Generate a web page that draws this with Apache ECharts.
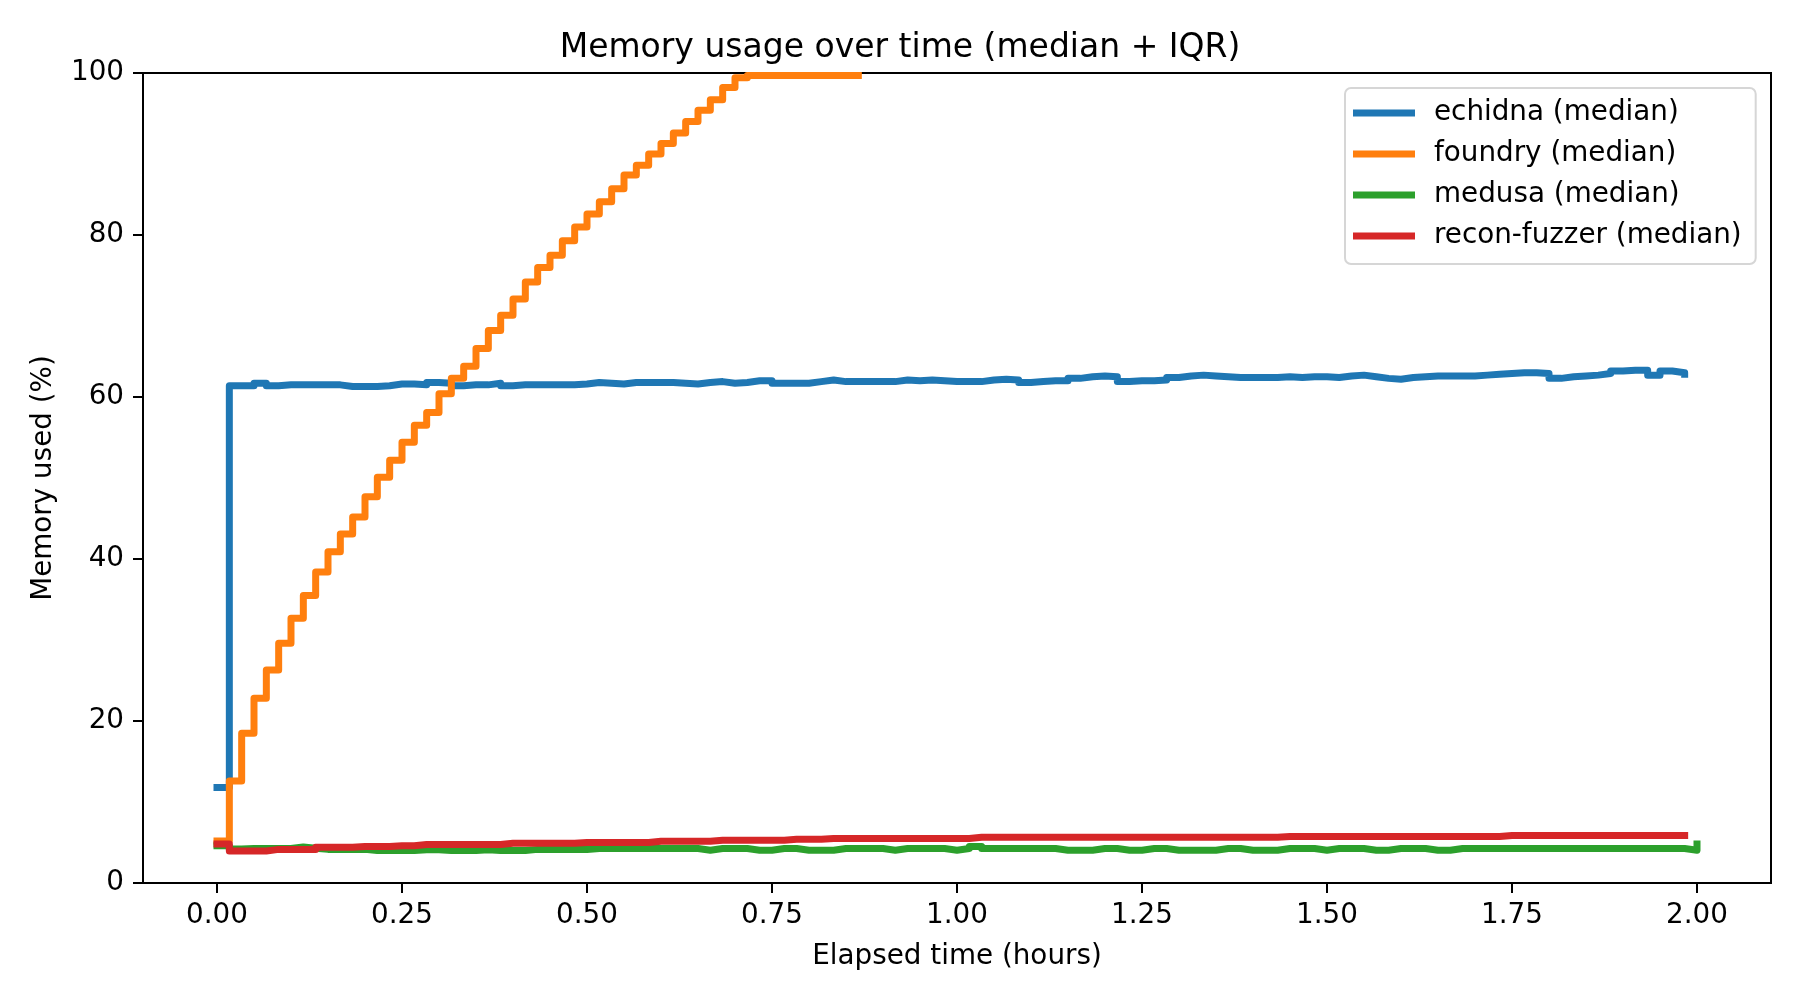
<!DOCTYPE html>
<html>
<head>
<meta charset="utf-8">
<title>Memory usage over time</title>
<script src="https://cdn.jsdelivr.net/npm/echarts@6/dist/echarts.min.js"></script>
<style>
  html, body { margin: 0; padding: 0; background: #fff; }
  #chart { width: 1800px; height: 1000px; }
</style>
</head>
<body>
<div id="chart"></div>
<script>
// one sample per minute, median over runs (percent of memory used)
const seriesNames = ['echidna (median)', 'foundry (median)', 'medusa (median)', 'recon-fuzzer (median)'];
const seriesColors = ['#1f77b4', '#ff7f0e', '#2ca02c', '#d62728'];

const echidna = [
  11.8, 61.4, 61.4, 61.7, 61.4, 61.5, 61.5, 61.5, 61.5, 61.5,
  61.3, 61.3, 61.3, 61.4, 61.6, 61.6, 61.5, 61.8, 61.7, 61.4,
  61.5, 61.5, 61.7, 61.4, 61.5, 61.5, 61.5, 61.5, 61.5, 61.6,
  61.8, 61.7, 61.6, 61.8, 61.8, 61.8, 61.8, 61.7, 61.6, 61.8,
  61.9, 61.7, 61.8, 62.0, 62.0, 61.7, 61.7, 61.7, 61.9, 62.1,
  61.9, 61.9, 61.9, 61.9, 61.9, 62.1, 62.0, 62.1, 62.0, 61.9,
  61.9, 61.9, 62.1, 62.2, 62.1, 61.8, 61.9, 62.0, 62.0, 62.3,
  62.5, 62.6, 62.5, 61.9, 62.0, 62.0, 62.1, 62.4, 62.6, 62.7,
  62.6, 62.5, 62.4, 62.4, 62.4, 62.4, 62.5, 62.4, 62.5, 62.5,
  62.4, 62.6, 62.7, 62.5, 62.3, 62.2, 62.4, 62.5, 62.6, 62.6,
  62.6, 62.6, 62.7, 62.8, 62.9, 63.0, 63.0, 62.9, 62.3, 62.5,
  62.6, 62.7, 62.9, 63.2, 63.3, 63.3, 62.7, 63.2, 63.0, 62.8
];

const foundry = [
  5.2, 12.6, 18.5, 22.8, 26.3, 29.6, 32.7, 35.5, 38.4, 40.9,
  43.1, 45.2, 47.7, 50.1, 52.2, 54.4, 56.5, 58.1, 60.4, 62.3,
  63.8, 66.0, 68.2, 70.1, 72.1, 74.2, 76.0, 77.5, 79.3, 81.0,
  82.6, 84.1, 85.7, 87.4, 88.6, 90.0, 91.3, 92.6, 94.0, 95.4,
  96.7, 98.2, 99.4, 99.7, 99.7, 99.7, 99.7, 99.7, 99.7, 99.7,
  99.7, 99.7, 99.7
];

const medusa = [
  4.6, 4.2, 4.25, 4.25, 4.25, 4.25, 4.45, 4.3, 4.15, 4.15,
  4.15, 4.15, 4.0, 4.0, 4.0, 4.0, 4.1, 4.1, 4.0, 4.0,
  4.0, 4.1, 4.0, 4.0, 4.0, 4.15, 4.15, 4.15, 4.15, 4.15,
  4.25, 4.25, 4.25, 4.25, 4.25, 4.25, 4.25, 4.25, 4.25, 4.05,
  4.25, 4.25, 4.25, 4.05, 4.05, 4.25, 4.25, 4.05, 4.05, 4.05,
  4.25, 4.25, 4.25, 4.25, 4.05, 4.25, 4.25, 4.25, 4.25, 4.05,
  4.25, 4.5, 4.25, 4.25, 4.25, 4.25, 4.25, 4.25, 4.05, 4.05,
  4.05, 4.25, 4.25, 4.05, 4.05, 4.25, 4.25, 4.05, 4.05, 4.05,
  4.05, 4.25, 4.25, 4.05, 4.05, 4.05, 4.25, 4.25, 4.25, 4.05,
  4.25, 4.25, 4.25, 4.05, 4.05, 4.25, 4.25, 4.25, 4.05, 4.05,
  4.25, 4.25, 4.25, 4.25, 4.25, 4.25, 4.25, 4.25, 4.25, 4.25,
  4.25, 4.25, 4.25, 4.25, 4.25, 4.25, 4.25, 4.25, 4.25, 4.05,
  4.8
];

const reconFuzzer = [
  4.8, 3.95, 3.95, 3.95, 4.15, 4.15, 4.15, 4.15, 4.4, 4.4,
  4.4, 4.5, 4.5, 4.5, 4.6, 4.6, 4.75, 4.75, 4.75, 4.75,
  4.75, 4.75, 4.75, 4.9, 4.9, 4.9, 4.9, 4.9, 4.9, 5.0,
  5.0, 5.0, 5.0, 5.0, 5.0, 5.15, 5.15, 5.15, 5.15, 5.15,
  5.27, 5.27, 5.27, 5.27, 5.27, 5.27, 5.4, 5.4, 5.4, 5.5,
  5.5, 5.5, 5.5, 5.5, 5.5, 5.5, 5.5, 5.5, 5.5, 5.5,
  5.5, 5.65, 5.65, 5.65, 5.65, 5.65, 5.65, 5.65, 5.65, 5.65,
  5.65, 5.65, 5.65, 5.65, 5.65, 5.65, 5.65, 5.65, 5.65, 5.65,
  5.65, 5.65, 5.65, 5.65, 5.65, 5.65, 5.75, 5.75, 5.75, 5.75,
  5.75, 5.75, 5.75, 5.75, 5.75, 5.75, 5.75, 5.75, 5.75, 5.75,
  5.75, 5.75, 5.75, 5.75, 5.87, 5.87, 5.87, 5.87, 5.87, 5.87,
  5.87, 5.87, 5.87, 5.87, 5.87, 5.87, 5.87, 5.87, 5.87, 5.87
];

const xTicks = [0, 0.25, 0.5, 0.75, 1.0, 1.25, 1.5, 1.75, 2.0];
const yTicks = [0, 20, 40, 60, 80, 100];

const FONT = 'DejaVu Sans';

// minute index -> hours
const toPoints = (vals) => vals.map((v, m) => [m / 60, v]);

const chart = echarts.init(document.getElementById('chart'), null, { renderer: 'canvas' });

const allSeries = [echidna, foundry, medusa, reconFuzzer].map((vals, i) => ({
  name: seriesNames[i],
  type: 'line',
  step: 'end',
  data: toPoints(vals),
  showSymbol: false,
  symbol: 'none',
  color: seriesColors[i],
  lineStyle: { width: 7, color: seriesColors[i], cap: 'square', join: 'round' },
  z: 2 + i
}));

chart.setOption({
  animation: false,
  backgroundColor: '#fff',
  title: {
    text: 'Memory usage over time (median + IQR)',
    left: 'center',
    top: 32,
    padding: [0, 0, 0, 114],
    textStyle: { fontFamily: FONT, fontSize: 33, fontWeight: 'normal', color: '#000' }
  },
  legend: {
    orient: 'vertical',
    left: 1345,
    top: 88,
    padding: [11, 14, 14, 8],
    itemGap: 13,
    itemWidth: 62,
    itemHeight: 7,
    icon: 'rect',
    backgroundColor: '#fff',
    borderColor: '#d6d6d6',
    borderWidth: 2,
    borderRadius: 6,
    data: seriesNames,
    textStyle: { fontFamily: FONT, fontSize: 27.8, color: '#000', lineHeight: 28, padding: [0, 0, 0, 14] }
  },
  grid: {
    left: 143,
    right: 29,
    top: 73,
    bottom: 117,
    show: true,
    borderColor: '#000',
    borderWidth: 2,
    containLabel: false
  },
  xAxis: {
    type: 'value',
    min: -0.1,
    max: 2.1,
    name: 'Elapsed time (hours)',
    nameLocation: 'middle',
    nameGap: 60,
    nameTextStyle: { fontFamily: FONT, fontSize: 27.8, color: '#000' },
    axisLine: { show: true, onZero: false, lineStyle: { color: '#000', width: 2 } },
    axisTick: { show: true, length: 10, customValues: xTicks, lineStyle: { color: '#000', width: 2 } },
    axisLabel: {
      margin: 19,
      customValues: xTicks,
      fontFamily: FONT, fontSize: 27.8, color: '#000',
      formatter: (v) => v.toFixed(2)
    },
    splitLine: { show: false }
  },
  yAxis: {
    type: 'value',
    min: yTicks[0],
    max: yTicks[yTicks.length - 1],
    interval: 20,
    name: 'Memory used (%)',
    nameLocation: 'middle',
    nameGap: 85,
    nameTextStyle: { fontFamily: FONT, fontSize: 27.8, color: '#000' },
    axisLine: { show: true, onZero: false, lineStyle: { color: '#000', width: 2 } },
    axisTick: { show: true, length: 10, lineStyle: { color: '#000', width: 2 } },
    axisLabel: { margin: 19, fontFamily: FONT, fontSize: 27.8, color: '#000' },
    splitLine: { show: false }
  },
  series: allSeries
});
</script>
</body>
</html>
